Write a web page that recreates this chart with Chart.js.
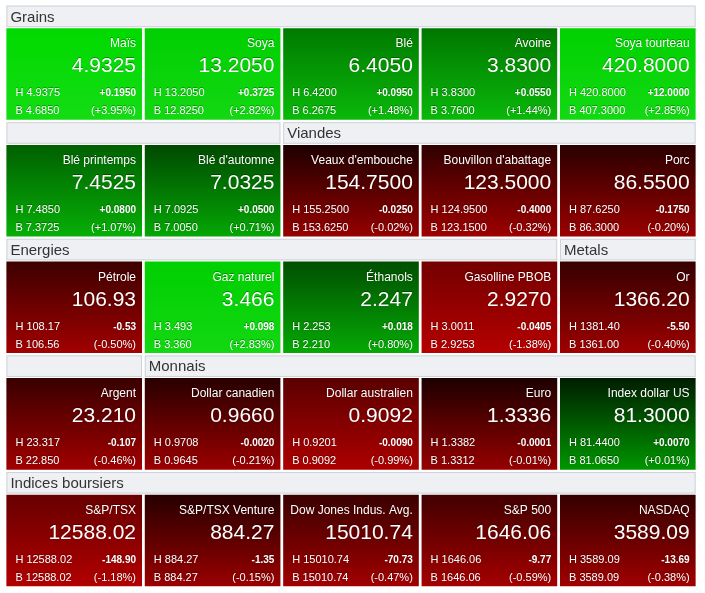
<!DOCTYPE html>
<html><head><meta charset="utf-8">
<script src="https://cdn.jsdelivr.net/npm/chart.js@4"></script>
<style>html,body{margin:0;padding:0;background:#fff}#w{width:705px;height:593px}</style>
</head><body><div id="w"><canvas id="c"></canvas></div>
<script>
const columns = ['c0','c1','c2','c3','c4'];
const names = ['Maïs','Soya','Blé','Avoine','Soya tourteau',
 'Blé printemps',"Blé d'automne","Veaux d'embouche","Bouvillon d'abattage",'Porc',
 'Pétrole','Gaz naturel','Éthanols','Gasolline PBOB','Or',
 'Argent','Dollar canadien','Dollar australien','Euro','Index dollar US',
 'S&P/TSX','S&P/TSX Venture','Dow Jones Indus. Avg.','S&P 500','NASDAQ'];
const values = ['4.9325','13.2050','6.4050','3.8300','420.8000',
 '7.4525','7.0325','154.7500','123.5000','86.5500',
 '106.93','3.466','2.247','2.9270','1366.20',
 '23.210','0.9660','0.9092','1.3336','81.3000',
 '12588.02','884.27','15010.74','1646.06','3589.09'];
const highs = ['4.9375','13.2050','6.4200','3.8300','420.8000',
 '7.4850','7.0925','155.2500','124.9500','87.6250',
 '108.17','3.493','2.253','3.0011','1381.40',
 '23.317','0.9708','0.9201','1.3382','81.4400',
 '12588.02','884.27','15010.74','1646.06','3589.09'];
const lows = ['4.6850','12.8250','6.2675','3.7600','407.3000',
 '7.3725','7.0050','153.6250','123.1500','86.3000',
 '106.56','3.360','2.210','2.9253','1361.00',
 '22.850','0.9645','0.9092','1.3312','81.0650',
 '12588.02','884.27','15010.74','1646.06','3589.09'];
const changes = ['+0.1950','+0.3725','+0.0950','+0.0550','+12.0000',
 '+0.0800','+0.0500','-0.0250','-0.4000','-0.1750',
 '-0.53','+0.098','+0.018','-0.0405','-5.50',
 '-0.107','-0.0020','-0.0090','-0.0001','+0.0070',
 '-148.90','-1.35','-70.73','-9.77','-13.69'];
const percents = [3.95,2.82,1.48,1.44,2.85,
 1.07,0.71,-0.02,-0.32,-0.20,
 -0.50,2.83,0.80,-1.38,-0.40,
 -0.46,-0.21,-0.99,-0.01,0.01,
 -1.18,-0.15,-0.47,-0.59,-0.38];
// header segments per row: [text, fromCol, toCol]
const headers = [
 [['Grains',0,4]],
 [['',0,1],['Viandes',2,4]],
 [['Energies',0,3],['Metals',4,4]],
 [['',0,0],['Monnais',1,4]],
 [['Indices boursiers',0,4]]
];

function tileColors(p){
  const s=Math.min(Math.abs(p)/3,1);
  const top=Math.round(28+s*190), bot=Math.round(150+s*70);
  if(p>=0) return [`rgb(0,${top},0)`,`rgb(${Math.round(s*20)},${bot},${Math.round(s*20)})`];
  return [`rgb(${top},0,0)`,`rgb(${bot},0,0)`];
}
const bars = names.map((n,i)=>{const r=Math.floor(i/5);return {x:columns[i%5],y:[r+0.2,r+0.985]};});

const plugin={id:'tiles',afterDatasetsDraw(chart){
  const ctx=chart.ctx, xs=chart.scales.x, ys=chart.scales.y;
  const meta=chart.getDatasetMeta(0);
  const half=meta.data[0].width/2;
  ctx.save();
  headers.forEach((segs,r)=>{
    segs.forEach(([t,a,b])=>{
      const x0=xs.getPixelForValue(a)-half, x1=xs.getPixelForValue(b)+half;
      const y0=ys.getPixelForValue(r+0.005), y1=ys.getPixelForValue(r+0.19);
      ctx.fillStyle='#eef0f3';ctx.fillRect(x0,y0,x1-x0,y1-y0);
      ctx.strokeStyle='#cfd3d8';ctx.lineWidth=1;ctx.strokeRect(x0+0.5,y0+0.5,x1-x0-1,y1-y0-1);
      ctx.fillStyle='#333';ctx.font='15px "Liberation Sans", Arial';ctx.textBaseline='middle';ctx.textAlign='left';
      ctx.fillText(t,x0+4,(y0+y1)/2+1);
    });
  });
  meta.data.forEach((el,i)=>{
    const l=el.x-el.width/2, r=el.x+el.width/2, t=Math.min(el.y,el.base);
    ctx.fillStyle='#fff';ctx.textBaseline='alphabetic';
    ctx.shadowColor='rgba(0,0,0,0.35)';ctx.shadowOffsetY=-1;ctx.shadowBlur=0;
    ctx.textAlign='right';
    ctx.font='12px "Liberation Sans", Arial';ctx.fillText(names[i],r-6,t+19);
    ctx.font='21px "Liberation Sans", Arial';ctx.fillText(values[i],r-6,t+44);
    ctx.font='bold 10px "Liberation Sans", Arial';ctx.fillText(changes[i],r-6,t+68);
    ctx.font='11px "Liberation Sans", Arial';
    const p=percents[i];
    ctx.fillText('('+(p>=0?'+':'')+p.toFixed(2)+'%)',r-6,t+86);
    ctx.textAlign='left';
    ctx.fillText('H '+highs[i],l+9,t+68);
    ctx.fillText('B '+lows[i],l+9,t+86);
    ctx.shadowColor='transparent';
  });
  ctx.restore();
}};

new Chart(document.getElementById('c'),{
  type:'bar',
  data:{labels:columns,datasets:[{data:bars,grouped:false,categoryPercentage:1,barPercentage:0.98,borderWidth:0,
    backgroundColor(c){
      const i=c.dataIndex, ch=c.chart;
      const cols=tileColors(percents[i]);
      if(!ch.chartArea||!ch.scales.y) return cols[1];
      const r=Math.floor(i/5), ys=ch.scales.y;
      const g=ch.ctx.createLinearGradient(0,ys.getPixelForValue(r+0.2),0,ys.getPixelForValue(r+0.985));
      g.addColorStop(0,cols[0]);g.addColorStop(1,cols[1]);return g;
    }}]},
  options:{responsive:true,maintainAspectRatio:false,animation:false,
    layout:{padding:{left:5,right:8,top:5,bottom:5}},
    plugins:{legend:{display:false},tooltip:{enabled:false}},
    scales:{x:{display:false},y:{display:false,min:0,max:5,reverse:true}}},
  plugins:[plugin]
});
</script></body></html>
